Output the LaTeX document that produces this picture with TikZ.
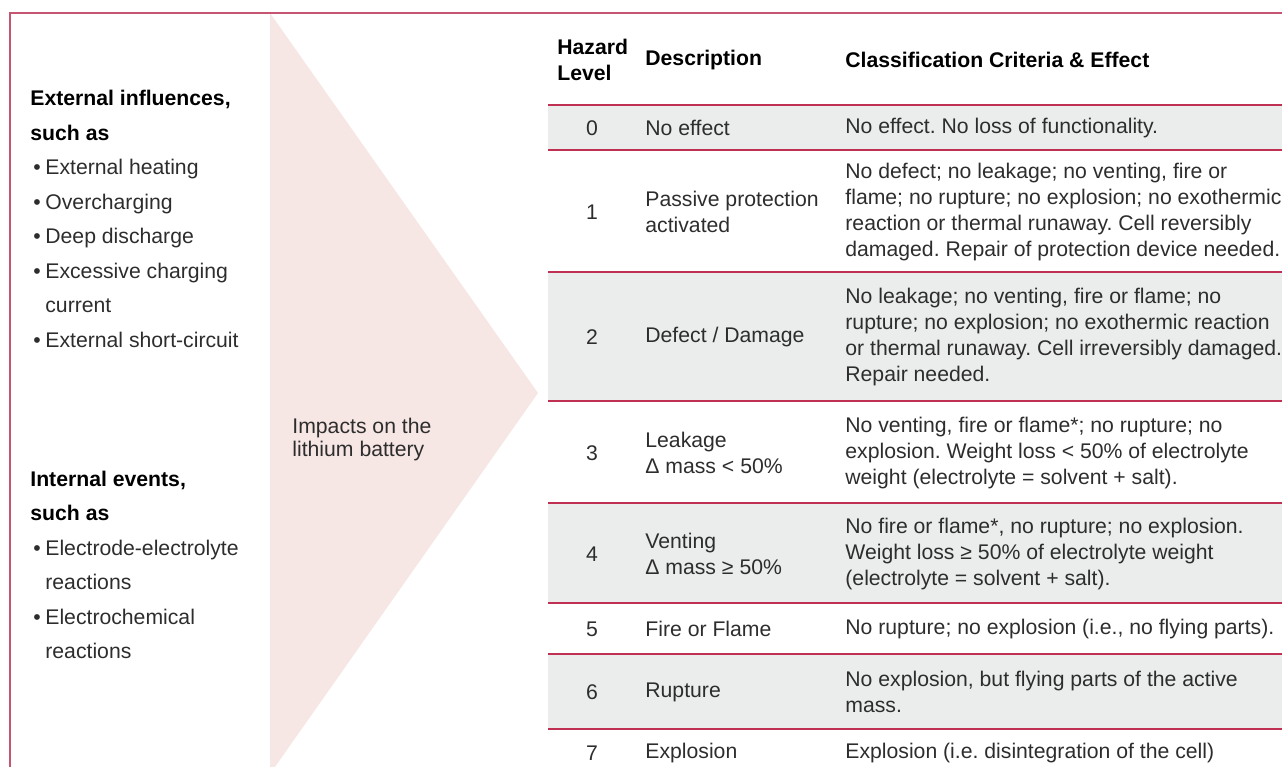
\documentclass[tikz,border=0pt]{standalone}
\usepackage{fontspec}
\setmainfont{Liberation Sans}
\frenchspacing

\definecolor{framered}{RGB}{197,85,112}
\definecolor{rulered}{RGB}{192,48,82}
\definecolor{rowgray}{RGB}{235,236,236}
\definecolor{arrowpink}{RGB}{246,231,229}
\definecolor{txtgray}{RGB}{45,45,45}

\newcommand{\lbul}{\makebox[7.5pt][l]{\kern1.5pt\textbullet}}

\tikzset{
  cell/.style={inner sep=0pt, align=left, anchor=west, text=txtgray,
    font=\fontsize{10.6}{13}\selectfont},
  lvl/.style={inner sep=0pt, text=txtgray, font=\fontsize{10.6}{13}\selectfont},
  head/.style={cell, text=black, font=\fontsize{10.6}{13}\selectfont\bfseries},
  sidelist/.style={inner sep=0pt, align=left, anchor=west, text=txtgray,
    font=\fontsize{10.6}{17.25}\selectfont},
}

\begin{document}
\begin{tikzpicture}[x=0.5pt,y=-0.5pt]
    \useasboundingbox (0,0) rectangle (1282,767);

    % Impact arrow
    \fill[arrowpink] (270,13) -- (538,393) -- (270,774) -- cycle;
    \node[cell, align=left, font=\fontsize{10.6}{11.5}\selectfont] (impact) at (292,440)
        {Impacts on the\\lithium battery};

    % Frame
    \draw[framered,line width=1pt] (1282,12.5) -- (9.5,12.5) -- (9.5,767);

    % Causes
    \node[sidelist] (extern) at (30,219) {\textbf{\color{black}External influences,}\\
        \textbf{\color{black}such as}\\
        \lbul External heating\\
        \lbul Overcharging\\
        \lbul Deep discharge\\
        \lbul Excessive charging\\
        \hspace*{7.5pt}current\\
        \lbul External short-circuit};
    \node[sidelist] (intern) at (30,565) {\textbf{\color{black}Internal events,}\\
        \textbf{\color{black}such as}\\
        \lbul Electrode-electrolyte\\
        \hspace*{7.5pt}reactions\\
        \lbul Electrochemical\\
        \hspace*{7.5pt}reactions};

    % Shaded rows and rules
    \foreach \ya/\yb in {105/150,272/401,503/603,654/729}
        \fill[rowgray] (548,\ya) rectangle (1282,\yb);
    \foreach \y in {105,150,272,401,503,603,654,729}
        \draw[rulered,line width=1pt] (548,\y) -- (1282,\y);

    % Header
    \node[head] (hlvl) at (557,60) {Hazard\\Level};
    \node[head] (hdesc) at (645,60) {Description};
    \node[head] (hcrit) at (845,60) {Classification Criteria \& Effect};

    % Level 0
    \node[lvl] (lvl0) at (592,128) {0};
    \node[cell] (desc0) at (645,128) {No effect};
    \node[cell] (crit0) at (845,128) {No effect. No loss of functionality.};

    % Level 1
    \node[lvl] (lvl1) at (592,212) {1};
    \node[cell] (desc1) at (645,212) {Passive protection\\activated};
    \node[cell] (crit1) at (845,212) {No defect; no leakage; no venting, fire or\\
        flame; no rupture; no explosion; no exothermic\\
        reaction or thermal runaway. Cell reversibly\\
        damaged. Repair of protection device needed.};

    % Level 2
    \node[lvl] (lvl2) at (592,337) {2};
    \node[cell] (desc2) at (645,337) {Defect / Damage};
    \node[cell] (crit2) at (845,337) {No leakage; no venting, fire or flame; no\\
        rupture; no explosion; no exothermic reaction\\
        or thermal runaway. Cell irreversibly damaged.\\
        Repair needed.};

    % Level 3
    \node[lvl] (lvl3) at (592,453) {3};
    \node[cell] (desc3) at (645,453) {Leakage\\Δ mass < 50\%};
    \node[cell] (crit3) at (845,453) {No venting, fire or flame*; no rupture; no\\
        explosion. Weight loss < 50\% of electrolyte\\
        weight (electrolyte = solvent + salt).};

    % Level 4
    \node[lvl] (lvl4) at (592,554) {4};
    \node[cell] (desc4) at (645,554) {Venting\\Δ mass ≥ 50\%};
    \node[cell] (crit4) at (845,554) {No fire or flame*, no rupture; no explosion.\\
        Weight loss ≥ 50\% of electrolyte weight\\
        (electrolyte = solvent + salt).};

    % Level 5
    \node[lvl] (lvl5) at (592,629) {5};
    \node[cell] (desc5) at (645,629) {Fire or Flame};
    \node[cell] (crit5) at (845,629) {No rupture; no explosion (i.e., no flying parts).};

    % Level 6
    \node[lvl] (lvl6) at (592,692) {6};
    \node[cell] (desc6) at (645,692) {Rupture};
    \node[cell] (crit6) at (845,692) {No explosion, but flying parts of the active\\mass.};

    % Level 7
    \node[lvl] (lvl7) at (592,753) {7};
    \node[cell] (desc7) at (645,753) {Explosion};
    \node[cell] (crit7) at (845,753) {Explosion (i.e. disintegration of the cell)};
\end{tikzpicture}
\end{document}
